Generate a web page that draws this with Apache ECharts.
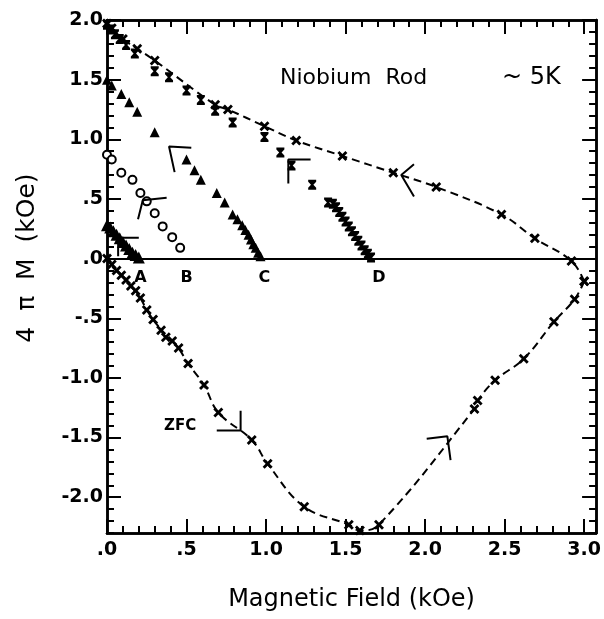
<!DOCTYPE html>
<html>
<head>
<meta charset="utf-8">
<script src="https://cdn.jsdelivr.net/npm/echarts@6/dist/echarts.min.js"></script>
<style>
html, body { margin: 0; padding: 0; background: #fff; }
#chart { width: 604px; height: 619px; }
</style>
</head>
<body>
<div id="chart"></div>
<script>
// virgin (ZFC) branch, field raised to 3 kOe
var zfcX = [0.00, 0.03, 0.06, 0.09, 0.12, 0.15, 0.18, 0.21, 0.25, 0.29, 0.34, 0.37, 0.41, 0.45, 0.51, 0.61, 0.70, 0.91, 1.01, 1.24, 1.52, 1.59, 1.71, 2.31, 2.33, 2.44, 2.62, 2.81, 2.94, 3.00];
var zfcY = [0.00, -0.05, -0.10, -0.14, -0.18, -0.23, -0.27, -0.33, -0.43, -0.51, -0.60, -0.66, -0.69, -0.75, -0.88, -1.06, -1.29, -1.52, -1.72, -2.08, -2.23, -2.28, -2.23, -1.26, -1.19, -1.02, -0.84, -0.53, -0.34, -0.19];
// return branch, field lowered from 3 kOe
var backX = [3.00, 2.92, 2.69, 2.48, 2.07, 1.80, 1.48, 1.19, 0.99, 0.76, 0.68, 0.30, 0.19, 0.10, 0.03, 0.00];
var backY = [-0.19, -0.02, 0.17, 0.37, 0.60, 0.72, 0.86, 0.99, 1.11, 1.25, 1.29, 1.66, 1.76, 1.84, 1.93, 1.97];
// curve D
var dX = [0.00, 0.02, 0.05, 0.08, 0.12, 0.175, 0.30, 0.39, 0.50, 0.59, 0.68, 0.79, 0.99, 1.09, 1.16, 1.29, 1.39, 1.42, 1.44, 1.46, 1.48, 1.50, 1.52, 1.54, 1.56, 1.58, 1.60, 1.62, 1.64, 1.66];
var dY = [1.96, 1.92, 1.88, 1.84, 1.79, 1.72, 1.57, 1.52, 1.41, 1.33, 1.24, 1.14, 1.02, 0.89, 0.78, 0.62, 0.47, 0.46, 0.43, 0.39, 0.35, 0.31, 0.27, 0.23, 0.19, 0.15, 0.11, 0.07, 0.04, 0.01];
// curve C
var cX = [0.00, 0.03, 0.09, 0.14, 0.19, 0.30, 0.50, 0.55, 0.59, 0.69, 0.74, 0.79, 0.82, 0.85, 0.87, 0.89, 0.905, 0.92, 0.935, 0.95, 0.965];
var cY = [1.50, 1.45, 1.38, 1.31, 1.23, 1.06, 0.83, 0.74, 0.66, 0.55, 0.47, 0.37, 0.33, 0.28, 0.24, 0.20, 0.16, 0.12, 0.09, 0.05, 0.02];
// curve B
var bX = [0.00, 0.03, 0.09, 0.16, 0.21, 0.25, 0.30, 0.35, 0.41, 0.46];
var bY = [0.87, 0.83, 0.72, 0.66, 0.55, 0.48, 0.38, 0.27, 0.18, 0.09];
// curve A
var aX = [0.00, 0.02, 0.04, 0.06, 0.08, 0.10, 0.12, 0.14, 0.16, 0.18, 0.20];
var aY = [0.28, 0.26, 0.23, 0.20, 0.17, 0.14, 0.11, 0.08, 0.05, 0.03, 0.01];

// direction flags and arrow heads drawn on the plot
var flagA = [[0.20, 0.175], [0.07, 0.175], [0.07, 0.02]];
var flagB = [[0.375, 0.51], [0.225, 0.49], [0.195, 0.33]];
var flagC = [[0.53, 0.93], [0.39, 0.94], [0.425, 0.725]];
var flagD = [[1.28, 0.83], [1.14, 0.83], [1.14, 0.63]];
var arrowBack = [[1.93, 0.79], [1.85, 0.70], [1.93, 0.52]];
var arrowUp = [[2.01, -1.51], [2.14, -1.49], [2.16, -1.69]];
var arrowZfc = [[0.69, -1.44], [0.84, -1.44], [0.84, -1.275]];

var curveNames = ['A', 'B', 'C', 'D'];
var curveNameX = [0.21, 0.50, 0.99, 1.71];

var yMajor = [-2.0, -1.5, -1.0, -0.5, 0.0, 0.5, 1.0, 1.5, 2.0];
var xMax = 3.075, yMin = -2.3, yMax = 2.0;

function zip(xs, ys) { return xs.map(function (x, i) { return [x, ys[i]]; }); }

function tickText(v) {
    if (Math.abs(v * 2 - Math.round(v * 2)) > 1e-6) return '';
    return v.toFixed(1).replace(/^(-?)0\./, '$1.');
}

var FONT = 'DejaVu Sans';
var crossPath = 'path://M0,2L2,0L5,3L8,0L10,2L7,5L10,8L8,10L5,7L2,10L0,8L3,5Z';
var glassPath = 'path://M0,0L10,0L10,2L6.5,5L10,8L10,10L0,10L0,8L3.5,5L0,2Z';

var labelStyle = { color: '#000', fontFamily: FONT, fontWeight: 'bold', fontSize: 19 };
var black = { color: '#000', opacity: 1 };

function xAx(pos, step, len, labels) {
    return {
        type: 'value', position: pos, min: 0, max: xMax, interval: step,
        axisLine: { onZero: false, lineStyle: { color: '#000', width: 2.5 } },
        axisTick: { inside: true, length: len, lineStyle: { color: '#000', width: 2 } },
        axisLabel: labels ? Object.assign({ margin: 8, formatter: tickText }, labelStyle) : { show: false },
        splitLine: { show: false }
    };
}
function yAx(pos, major, labels) {
    var ax = {
        type: 'value', position: pos, min: yMin, max: yMax,
        axisLine: { onZero: false, lineStyle: { color: '#000', width: 2.5 } },
        axisTick: { inside: true, length: major ? 14 : 7, lineStyle: { color: '#000', width: 2 } },
        axisLabel: { show: false },
        splitLine: { show: false }
    };
    if (major) {
        ax.axisTick.customValues = yMajor;
        if (labels) ax.axisLabel = Object.assign({ show: true, margin: 4, customValues: yMajor, formatter: tickText }, labelStyle);
    } else {
        ax.interval = 0.1;
    }
    return ax;
}

var xAxes = [xAx('bottom', 0.1, 7, false), xAx('bottom', 0.5, 14, true), xAx('top', 0.1, 7, false), xAx('top', 0.5, 14, false)];
xAxes[1].name = 'Magnetic Field (kOe)';
xAxes[1].nameLocation = 'middle';
xAxes[1].nameGap = 55;
xAxes[1].nameTextStyle = { color: '#000', fontFamily: FONT, fontSize: 24 };

var series = [
    {
        type: 'line', data: zip(zfcX, zfcY), smooth: 0.4,
        symbol: crossPath, symbolSize: 10, itemStyle: black,
        lineStyle: { color: '#000', width: 2, type: [8, 5] },
        markLine: {
            silent: true, symbol: 'none', label: { show: false },
            lineStyle: { color: '#000', width: 2, type: 'solid' },
            data: [{ yAxis: 0 }]
        }
    },
    {
        type: 'line', data: zip(backX, backY), smooth: 0.4,
        symbol: crossPath, symbolSize: 10, itemStyle: black,
        lineStyle: { color: '#000', width: 2, type: [8, 5] }
    },
    { type: 'scatter', data: zip(dX, dY), symbol: glassPath, symbolSize: [8, 10], itemStyle: black },
    { type: 'scatter', data: zip(cX, cY), symbol: 'triangle', symbolSize: 10, itemStyle: black },
    { type: 'scatter', data: zip(bX, bY), symbol: 'emptyCircle', symbolSize: 8, itemStyle: { color: '#000', opacity: 1, borderWidth: 1.8 } },
    { type: 'scatter', data: zip(aX, aY), symbol: 'triangle', symbolSize: 12, itemStyle: black },
    {
        type: 'scatter', symbolSize: 0, itemStyle: black,
        data: curveNames.map(function (n, i) { return { name: n, value: [curveNameX[i], -0.16] }; }),
        label: { show: true, position: 'inside', formatter: '{b}', color: '#000', fontFamily: FONT, fontWeight: 'bold', fontSize: 16 }
    },
    {
        type: 'scatter', symbolSize: 0, itemStyle: black,
        data: [{ name: 'ZFC', value: [0.46, -1.40] }],
        label: { show: true, position: 'inside', formatter: '{b}', color: '#000', fontFamily: FONT, fontWeight: 'bold', fontSize: 15 }
    }
];
[flagA, flagB, flagC, flagD, arrowBack, arrowUp, arrowZfc].forEach(function (f) {
    series.push({ type: 'line', data: f, symbol: 'none', lineStyle: { color: '#000', width: 2 } });
});

var chart = echarts.init(document.getElementById('chart'));
chart.setOption({
    animation: false,
    backgroundColor: '#fff',
    grid: { left: 107, right: 5, top: 20, bottom: 86 },
    xAxis: xAxes,
    yAxis: [yAx('left', false), yAx('left', true, true), yAx('right', false), yAx('right', true)],
    graphic: [
        { type: 'text', x: 280, y: 78, style: { text: 'Niobium  Rod', fill: '#000', font: '22px "DejaVu Sans"', textVerticalAlign: 'middle' } },
        { type: 'text', x: 502, y: 78, style: { text: '~ 5K', fill: '#000', font: '24px "DejaVu Sans"', textVerticalAlign: 'middle' } },
        { type: 'text', x: 27, y: 258, rotation: Math.PI / 2, style: { text: '4  π  M  (kOe)', fill: '#000', font: '25px "DejaVu Sans"', textAlign: 'center', textVerticalAlign: 'middle' } }
    ],
    series: series
});
</script>
</body>
</html>
